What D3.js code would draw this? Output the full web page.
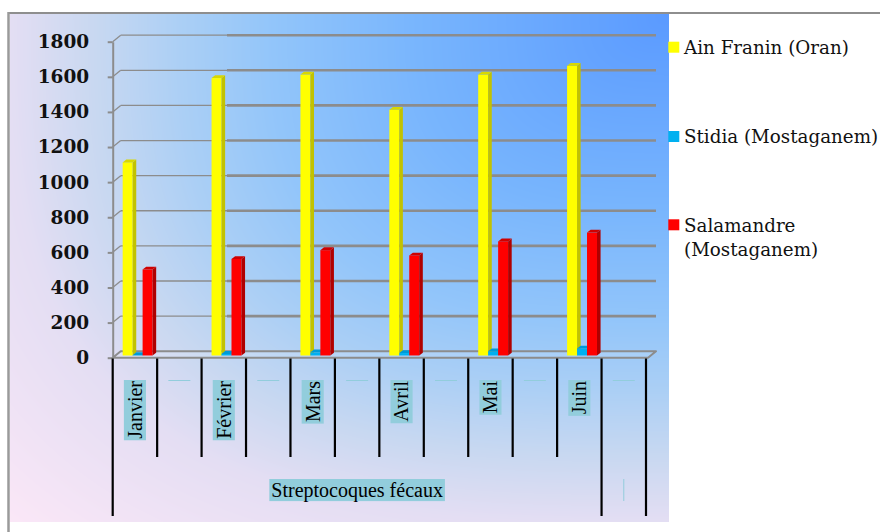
<!DOCTYPE html>
<html>
<head>
<meta charset="utf-8">
<script src="https://cdn.jsdelivr.net/npm/d3@7"></script>
<style>
  html, body { margin: 0; padding: 0; background: #ffffff; }
  svg { display: block; }
</style>
</head>
<body>
<script>
// ---- data ----
const months = ["Janvier", "Février", "Mars", "Avril", "Mai", "Juin"];
// first-level category axis: a month slot followed by an empty slot
const slotLabels = ["Janvier", "", "Février", "", "Mars", "", "Avril", "", "Mai", "", "Juin", ""];
// second-level category axis
const groupLabels = ["Streptocoques fécaux", ""];
const groupSpans = [11, 1];
const seriesNames = ["Ain Franin (Oran)", "Stidia (Mostaganem)", "Salamandre (Mostaganem)"];
const ainFranin = [1100, 1580, 1600, 1400, 1600, 1650];
const stidia = [2, 9, 18, 14, 24, 40];
const salamandre = [490, 550, 600, 570, 650, 700];
const yTicks = [0, 200, 400, 600, 800, 1000, 1200, 1400, 1600, 1800];

const seriesValues = [ainFranin, stidia, salamandre];
const frontColors = ["#ffff00", "#00b0f0", "#ff0000"];
const sideColors = ["#c2c200", "#0086bd", "#b00000"];
const topColors = ["#d8d800", "#009ad6", "#cf0000"];

const W = 880, H = 532;
const svg = d3.select("body").append("svg").attr("width", W).attr("height", H);

// ---- chart area background (corner gradient) ----
const bg = { x: 10, y: 14, w: 659, h: 508 };
(function drawBackground() {
  const cv = document.createElement("canvas");
  cv.width = bg.w; cv.height = bg.h;
  const ctx = cv.getContext("2d");
  const img = ctx.createImageData(bg.w, bg.h);
  const stops = [[0, "#5a9aff"], [0.38, "#78b5fd"], [0.6, "#92c5fa"], [0.74, "#abcff5"],
                 [0.87, "#c8d8f1"], [1.0, "#e4def3"], [1.26, "#fbe7f7"]];
  const col = d3.scaleLinear().domain(stops.map(d => d[0])).range(stops.map(d => d[1]))
    .interpolate(d3.interpolateRgb).clamp(true);
  const N = 1024, lut = [];
  for (let i = 0; i < N; i++) lut.push(d3.rgb(col(i / (N - 1) * 1.3)));
  for (let py = 0; py < bg.h; py++) {
    for (let px = 0; px < bg.w; px++) {
      const dx = (bg.w - 1 - px) / bg.w, dy = py / bg.h;
      const t = Math.cbrt(dx * dx * dx + dy * dy * dy);
      const c = lut[Math.min(N - 1, Math.round(t / 1.3 * (N - 1)))];
      const k = (py * bg.w + px) * 4;
      img.data[k] = c.r; img.data[k + 1] = c.g; img.data[k + 2] = c.b; img.data[k + 3] = 255;
    }
  }
  ctx.putImageData(img, 0, 0);
  svg.append("image").attr("x", bg.x).attr("y", bg.y)
    .attr("width", bg.w).attr("height", bg.h).attr("href", cv.toDataURL());
})();

// outer frame (top and left edges)
svg.append("line").attr("x1", 8).attr("x2", W).attr("y1", 13).attr("y2", 13)
  .attr("stroke", "#8e8e8e").attr("stroke-width", 2);
svg.append("line").attr("x1", 8.5).attr("x2", 8.5).attr("y1", 12).attr("y2", H)
  .attr("stroke", "#9a9a9a").attr("stroke-width", 2.5);

// ---- scales ----
const plotLeft = 112.7, plotRight = 646, depthX = 8, depthY = -6.5;
const x0 = d3.scaleBand().domain(d3.range(slotLabels.length)).range([plotLeft, plotRight]);
const x1 = d3.scaleBand().domain(seriesNames).range([0, x0.bandwidth()]).paddingOuter(0.73).paddingInner(0);
const y = d3.scaleLinear().domain([0, 1800]).range([357.7, 41.7]);

// ---- walls: gridlines on back wall, floor ----
const grid = svg.append("g").attr("class", "grid");
const splitX = 227;
yTicks.forEach(v => {
  const yy = y(v);
  if (v === 0) return;
  grid.append("line").attr("x1", plotLeft).attr("y1", yy)
    .attr("x2", plotLeft + depthX).attr("y2", yy + depthY)
    .attr("stroke", "#8c8c8c").attr("stroke-width", 1.3);
  grid.append("line").attr("x1", plotLeft + depthX).attr("y1", yy + depthY)
    .attr("x2", splitX).attr("y2", yy + depthY)
    .attr("stroke", "#8c8c8c").attr("stroke-width", 1.3);
  grid.append("line").attr("x1", splitX).attr("y1", yy + depthY)
    .attr("x2", plotRight + 2 + depthX).attr("y2", yy + depthY)
    .attr("stroke", "#8c8c8c").attr("stroke-width", 2.6);
});
// floor
const y0 = y(0);
grid.append("path")
  .attr("d", `M${plotLeft},${y0} L${plotLeft + depthX},${y0 + depthY} L${plotRight + 2 + depthX},${y0 + depthY} L${plotRight + 2},${y0} Z`)
  .attr("fill", "rgba(255,255,255,0.12)").attr("stroke", "#8c8c8c").attr("stroke-width", 2)
  .attr("stroke-linejoin", "round");

// ---- y axis ----
const yAxis = d3.axisLeft(y).tickValues(yTicks).tickFormat(d3.format("d"))
  .tickSize(5).tickSizeOuter(0).tickPadding(18.5);
const yg = svg.append("g").attr("transform", `translate(${plotLeft},0)`).call(yAxis);
yg.select(".domain").attr("stroke", "#8c8c8c").attr("stroke-width", 2);
yg.selectAll(".tick line").attr("stroke", "#8c8c8c").attr("stroke-width", 2);
yg.selectAll(".tick text")
  .attr("font-family", "'DejaVu Serif', serif").attr("font-weight", "bold")
  .attr("font-size", "18.5px").attr("fill", "#111111");

// ---- 3D bars ----
const barShiftX = 2.7, barShiftY = -2.2, barDX = 3.6, barDY = -2.8;
const bars = svg.append("g").attr("class", "bars");
months.forEach((m, i) => {
  const slot = slotLabels.indexOf(m);
  seriesNames.forEach((s, k) => {
    const v = seriesValues[k][i];
    const bx = x0(slot) + x1(s) + barShiftX;
    const bw = x1.bandwidth();
    const top = y(v) + barShiftY;
    const base = y(0) + barShiftY;
    const g = bars.append("g");
    g.append("rect").attr("x", bx).attr("y", top).attr("width", bw).attr("height", base - top)
      .attr("fill", frontColors[k]);
    g.append("path")
      .attr("d", `M${bx + bw},${base} L${bx + bw + barDX},${base + barDY} L${bx + bw + barDX},${top + barDY} L${bx + bw},${top} Z`)
      .attr("fill", sideColors[k]);
    g.append("path")
      .attr("d", `M${bx},${top} L${bx + barDX},${top + barDY} L${bx + bw + barDX},${top + barDY} L${bx + bw},${top} Z`)
      .attr("fill", topColors[k]);
  });
});

// ---- multi-level category axis ----
const xAxisG = svg.append("g").attr("class", "x-axis");
const tickTop = 358.5, shortEnd = 457, longEnd = 516;
const groupBounds = [0];
groupSpans.forEach(n => groupBounds.push(groupBounds[groupBounds.length - 1] + n));
const boundaryX = i => (i < slotLabels.length ? x0(i) : plotRight);
d3.range(slotLabels.length + 1).forEach(i => {
  const xx = boundaryX(i);
  xAxisG.append("line").attr("x1", xx).attr("x2", xx).attr("y1", tickTop)
    .attr("y2", groupBounds.includes(i) ? longEnd : shortEnd)
    .attr("stroke", "#000000").attr("stroke-width", 2.2);
});

const labelFill = "#92cddc";
const labelFont = "'Liberation Serif', 'Times New Roman', serif";
const labelTop = 380;
slotLabels.forEach((lab, i) => {
  const cx = x0(i) + x0.bandwidth() / 2;
  const g = xAxisG.append("g").attr("transform", `translate(${cx},${labelTop}) rotate(-90)`);
  if (lab === "") {
    g.append("rect").attr("x", -1).attr("y", -11).attr("width", 1).attr("height", 22).attr("fill", labelFill);
    return;
  }
  const rect = g.append("rect").attr("fill", labelFill);
  const t = g.append("text").attr("x", -1).attr("y", 6.8).attr("text-anchor", "end")
    .attr("font-family", labelFont).attr("font-size", "20px").attr("fill", "#000").text(lab);
  const len = t.node().getComputedTextLength();
  rect.attr("x", -len - 2.5).attr("y", -11.05).attr("width", len + 2.5).attr("height", 22.1);
});

groupLabels.forEach((lab, gi) => {
  const xa = boundaryX(groupBounds[gi]), xb = boundaryX(groupBounds[gi + 1]);
  const cx = (xa + xb) / 2;
  if (lab === "") {
    xAxisG.append("rect").attr("x", cx - 0.5).attr("y", 479).attr("width", 1).attr("height", 22).attr("fill", labelFill);
    return;
  }
  const rect = xAxisG.append("rect").attr("fill", labelFill);
  const t = xAxisG.append("text").attr("x", cx).attr("y", 496.8).attr("text-anchor", "middle")
    .attr("font-family", labelFont).attr("font-size", "20px").attr("fill", "#000").text(lab);
  const len = t.node().getComputedTextLength();
  rect.attr("x", cx - len / 2 - 2).attr("y", 479).attr("width", len + 4).attr("height", 22.1);
});

// ---- legend ----
const legend = svg.append("g").attr("class", "legend");
const legendRows = [
  { lines: ["Ain Franin (Oran)"], sq: 41.7, base: 54 },
  { lines: ["Stidia (Mostaganem)"], sq: 131, base: 143.3 },
  { lines: ["Salamandre", "(Mostaganem)"], sq: 219.3, base: 232.3 }
];
legendRows.forEach((r, k) => {
  legend.append("rect").attr("x", 668.3).attr("y", r.sq).attr("width", 11).attr("height", 11)
    .attr("fill", frontColors[k]);
  const t = legend.append("text").attr("x", 684).attr("y", r.base)
    .attr("font-family", "'DejaVu Serif', serif").attr("font-size", "18.3px").attr("fill", "#111");
  r.lines.forEach((ln, j) => {
    t.append("tspan").attr("x", 684).attr("dy", j === 0 ? 0 : 24).text(ln);
  });
});
</script>
</body>
</html>
